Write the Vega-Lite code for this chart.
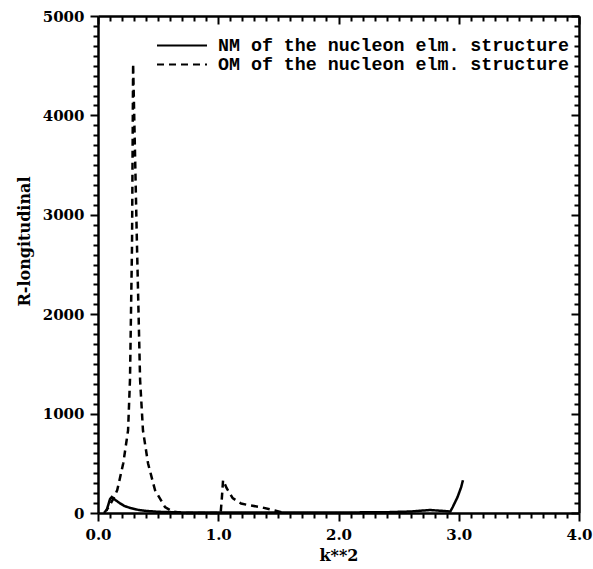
{
  "$schema": "https://vega.github.io/schema/vega-lite/v6.json",
  "width": 481,
  "height": 497,
  "autosize": "none",
  "padding": {"left": 98, "top": 16, "right": 14, "bottom": 56},
  "background": "white",
  "config": {
    "view": {"stroke": null},
    "axis": {
      "grid": false,
      "domainColor": "black",
      "domainWidth": 2.5,
      "tickColor": "black",
      "tickWidth": 2,
      "labelFont": "DejaVu Serif",
      "labelFontWeight": "bold",
      "labelFontSize": 15,
      "labelColor": "black",
      "titleFont": "DejaVu Serif",
      "titleFontWeight": "bold",
      "titleFontSize": 16,
      "titleColor": "black"
    }
  },
  "data": {
    "values": [
      {"k": 0.07, "R": 20, "s": "NM of the nucleon elm. structure"},
      {"k": 0.085, "R": 80, "s": "NM of the nucleon elm. structure"},
      {"k": 0.1, "R": 140, "s": "NM of the nucleon elm. structure"},
      {"k": 0.115, "R": 160, "s": "NM of the nucleon elm. structure"},
      {"k": 0.14, "R": 135, "s": "NM of the nucleon elm. structure"},
      {"k": 0.18, "R": 100, "s": "NM of the nucleon elm. structure"},
      {"k": 0.22, "R": 70, "s": "NM of the nucleon elm. structure"},
      {"k": 0.27, "R": 50, "s": "NM of the nucleon elm. structure"},
      {"k": 0.34, "R": 30, "s": "NM of the nucleon elm. structure"},
      {"k": 0.41, "R": 20, "s": "NM of the nucleon elm. structure"},
      {"k": 0.5, "R": 12, "s": "NM of the nucleon elm. structure"},
      {"k": 0.7, "R": 6, "s": "NM of the nucleon elm. structure"},
      {"k": 1.0, "R": 5, "s": "NM of the nucleon elm. structure"},
      {"k": 1.5, "R": 4, "s": "NM of the nucleon elm. structure"},
      {"k": 2.0, "R": 5, "s": "NM of the nucleon elm. structure"},
      {"k": 2.4, "R": 8, "s": "NM of the nucleon elm. structure"},
      {"k": 2.6, "R": 15, "s": "NM of the nucleon elm. structure"},
      {"k": 2.76, "R": 30, "s": "NM of the nucleon elm. structure"},
      {"k": 2.88, "R": 20, "s": "NM of the nucleon elm. structure"},
      {"k": 2.93, "R": 15, "s": "NM of the nucleon elm. structure"},
      {"k": 2.95, "R": 60, "s": "NM of the nucleon elm. structure"},
      {"k": 2.99, "R": 160, "s": "NM of the nucleon elm. structure"},
      {"k": 3.02, "R": 260, "s": "NM of the nucleon elm. structure"},
      {"k": 3.035, "R": 330, "s": "NM of the nucleon elm. structure"},
      {"k": 0.05, "R": 0, "s": "OM of the nucleon elm. structure"},
      {"k": 0.09, "R": 60, "s": "OM of the nucleon elm. structure"},
      {"k": 0.13, "R": 150, "s": "OM of the nucleon elm. structure"},
      {"k": 0.16, "R": 230, "s": "OM of the nucleon elm. structure"},
      {"k": 0.21, "R": 500, "s": "OM of the nucleon elm. structure"},
      {"k": 0.25, "R": 830, "s": "OM of the nucleon elm. structure"},
      {"k": 0.266, "R": 1340, "s": "OM of the nucleon elm. structure"},
      {"k": 0.283, "R": 2700, "s": "OM of the nucleon elm. structure"},
      {"k": 0.292, "R": 4520, "s": "OM of the nucleon elm. structure"},
      {"k": 0.324, "R": 2700, "s": "OM of the nucleon elm. structure"},
      {"k": 0.35, "R": 1340, "s": "OM of the nucleon elm. structure"},
      {"k": 0.374, "R": 830, "s": "OM of the nucleon elm. structure"},
      {"k": 0.416, "R": 500, "s": "OM of the nucleon elm. structure"},
      {"k": 0.474, "R": 230, "s": "OM of the nucleon elm. structure"},
      {"k": 0.557, "R": 60, "s": "OM of the nucleon elm. structure"},
      {"k": 0.62, "R": 15, "s": "OM of the nucleon elm. structure"},
      {"k": 0.7, "R": 0, "s": "OM of the nucleon elm. structure"},
      {"k": 1.02, "R": 0, "s": "OM of the nucleon elm. structure"},
      {"k": 1.03, "R": 150, "s": "OM of the nucleon elm. structure"},
      {"k": 1.04, "R": 330, "s": "OM of the nucleon elm. structure"},
      {"k": 1.07, "R": 250, "s": "OM of the nucleon elm. structure"},
      {"k": 1.12, "R": 150, "s": "OM of the nucleon elm. structure"},
      {"k": 1.19, "R": 95, "s": "OM of the nucleon elm. structure"},
      {"k": 1.27, "R": 75, "s": "OM of the nucleon elm. structure"},
      {"k": 1.35, "R": 60, "s": "OM of the nucleon elm. structure"},
      {"k": 1.47, "R": 25, "s": "OM of the nucleon elm. structure"},
      {"k": 1.55, "R": 0, "s": "OM of the nucleon elm. structure"}
    ]
  },
  "layer": [
    {
      "mark": {"type": "line", "strokeWidth": 2.5, "color": "black"},
      "encoding": {
        "x": {
          "field": "k", "type": "quantitative",
          "scale": {"domain": [0, 4], "nice": false, "zero": false},
          "axis": {
            "orient": "bottom",
            "title": "k**2",
            "titlePadding": 5,
            "values": [0,0.1,0.2,0.3,0.4,0.5,0.6,0.7,0.8,0.9,1,1.1,1.2,1.3,1.4,1.5,1.6,1.7,1.8,1.9,2,2.1,2.2,2.3,2.4,2.5,2.6,2.7,2.8,2.9,3,3.1,3.2,3.3,3.4,3.5,3.6,3.7,3.8,3.9,4],
            "format": ".1f",
            "labelExpr": "abs(datum.value - round(datum.value)) < 0.001 ? datum.label : ''",
            "tickSize": {"condition": {"test": "abs(datum.value - round(datum.value)) < 0.001", "value": 8}, "value": 5},
            "labelPadding": 6,
            "labelFlush": false,
            "labelOverlap": false
          }
        },
        "y": {
          "field": "R", "type": "quantitative",
          "scale": {"domain": [0, 5000], "nice": false},
          "axis": {
            "orient": "left",
            "title": "R-longitudinal",
            "titlePadding": 10,
            "titleY": 225,
            "values": [0,100,200,300,400,500,600,700,800,900,1000,1100,1200,1300,1400,1500,1600,1700,1800,1900,2000,2100,2200,2300,2400,2500,2600,2700,2800,2900,3000,3100,3200,3300,3400,3500,3600,3700,3800,3900,4000,4100,4200,4300,4400,4500,4600,4700,4800,4900,5000],
            "format": "d",
            "labelExpr": "datum.value % 1000 === 0 ? datum.label : ''",
            "tickSize": {"condition": {"test": "datum.value % 1000 === 0", "value": 8}, "value": 5},
            "labelPadding": 6,
            "labelFlush": false,
            "labelOverlap": false
          }
        },
        "strokeDash": {
          "field": "s", "type": "nominal",
          "scale": {"range": [[1, 0], [7, 5]]},
          "legend": {
            "title": null,
            "orient": "none",
            "legendX": 58,
            "legendY": 21,
            "padding": 0,
            "symbolType": "stroke",
            "symbolSize": 2500,
            "symbolStrokeColor": "black",
            "symbolStrokeWidth": 2,
            "labelFont": "Liberation Mono",
            "labelFontSize": 18.3,
            "labelFontWeight": "bold",
            "labelColor": "black",
            "labelOffset": 10,
            "rowPadding": 0,
            "clipHeight": 17,
            "labelLimit": 500
          }
        }
      }
    },
    {
      "mark": {"type": "line", "opacity": 0},
      "encoding": {
        "x": {
          "field": "k", "type": "quantitative",
          "axis": {
            "orient": "top",
            "title": null,
            "labels": false,
            "values": [0,0.1,0.2,0.3,0.4,0.5,0.6,0.7,0.8,0.9,1,1.1,1.2,1.3,1.4,1.5,1.6,1.7,1.8,1.9,2,2.1,2.2,2.3,2.4,2.5,2.6,2.7,2.8,2.9,3,3.1,3.2,3.3,3.4,3.5,3.6,3.7,3.8,3.9,4],
            "tickSize": {"condition": {"test": "abs(datum.value - round(datum.value)) < 0.001", "value": -8}, "value": -5}
          }
        },
        "y": {
          "field": "R", "type": "quantitative",
          "axis": {
            "orient": "right",
            "title": null,
            "labels": false,
            "values": [0,100,200,300,400,500,600,700,800,900,1000,1100,1200,1300,1400,1500,1600,1700,1800,1900,2000,2100,2200,2300,2400,2500,2600,2700,2800,2900,3000,3100,3200,3300,3400,3500,3600,3700,3800,3900,4000,4100,4200,4300,4400,4500,4600,4700,4800,4900,5000],
            "tickSize": {"condition": {"test": "datum.value % 1000 === 0", "value": -8}, "value": -5}
          }
        }
      }
    }
  ],
  "resolve": {"axis": {"x": "independent", "y": "independent"}}
}
